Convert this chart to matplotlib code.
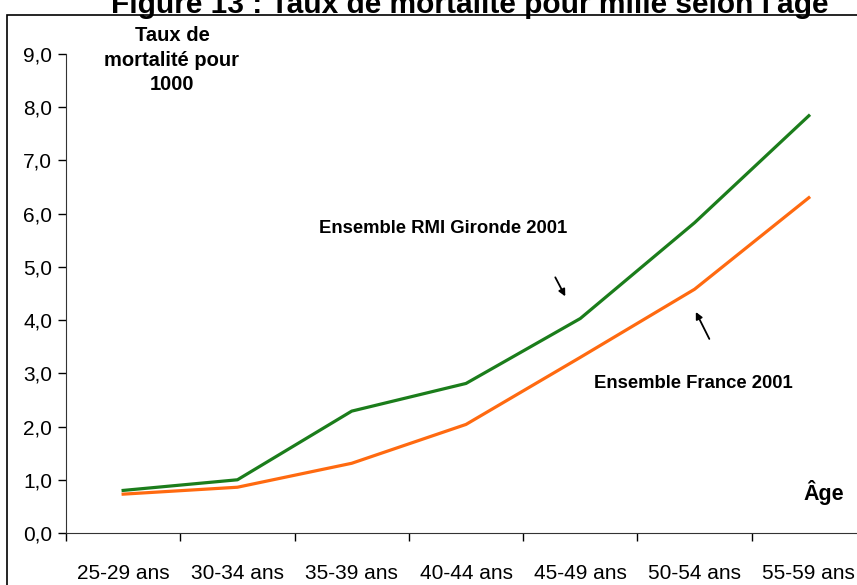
import matplotlib.pyplot as plt
from matplotlib.patches import Rectangle

# tranches d'age et taux de mortalite pour 1000
ages = ['25-29 ans', '30-34 ans', '35-39 ans', '40-44 ans',
        '45-49 ans', '50-54 ans', '55-59 ans']
rmi_gironde = [0.8, 1.0, 2.29, 2.81, 4.03, 5.83, 7.84]
france = [0.73, 0.86, 1.31, 2.04, 3.3, 4.58, 6.3]
yticks = [0, 1, 2, 3, 4, 5, 6, 7, 8, 9]

plt.rcParams['font.family'] = ['Liberation Sans', 'DejaVu Sans']

fig = plt.figure(figsize=(8.57, 5.85), dpi=100)
ax = fig.add_axes([66/857, 1-533/585, 800/857, (533-54)/585])

xpos = [i + 0.5 for i in range(len(ages))]
ax.plot(xpos, rmi_gironde, color='#1b7d1b', lw=2.3)
ax.plot(xpos, france, color='#ff6a10', lw=2.3)

ax.set_xlim(0, 7)
ax.set_ylim(0, 9)
ax.set_yticks(yticks)
ax.yaxis.set_major_formatter(plt.FuncFormatter(lambda v, p: ('%.1f' % v).replace('.', ',')))
ax.set_xticks(range(8))
ax.set_xticklabels([])
ax.set_xticks(xpos, minor=True)
ax.set_xticklabels(ages, minor=True)
ax.tick_params(axis='x', which='minor', length=0, pad=22, labelsize=15)
ax.tick_params(axis='x', which='major', length=6, width=1)
ax.tick_params(axis='y', length=6, width=1, labelsize=15, pad=4)
for s in ['top', 'right']:
    ax.spines[s].set_visible(False)
for s in ['left', 'bottom']:
    ax.spines[s].set_color('#333333')

# annotations
ax.text(3.3, 5.72, 'Ensemble RMI Gironde 2001', ha='center', va='center',
        fontsize=13.3, fontweight='bold')
ax.text(5.49, 2.81, 'Ensemble France 2001', ha='center', va='center',
        fontsize=13.3, fontweight='bold')
ax.text(6.63, 0.77, 'Âge', ha='center', va='center', fontsize=15.5, fontweight='bold')
ax.annotate('', xy=(4.38, 4.4), xytext=(4.27, 4.85),
            arrowprops=dict(arrowstyle='-|>', color='black', lw=1.3, mutation_scale=10))
ax.annotate('', xy=(5.5, 4.2), xytext=(5.64, 3.6),
            arrowprops=dict(arrowstyle='-|>', color='black', lw=1.3, mutation_scale=10))

fig.text(172/857, 1-60/585, 'Taux de\nmortalité pour\n1000', ha='center', va='center',
         fontsize=14.5, fontweight='bold', linespacing=1.35)

fig.text(470/857, 1-13/585, "Figure 13 : Taux de mortalité pour mille selon l'âge",
         ha='center', va='baseline', fontsize=21.5, fontweight='bold')

# cadre
fig.patches.append(Rectangle((7/857, -0.1), 1.1, 1.1 - 15/585, transform=fig.transFigure,
                             fill=False, edgecolor='black', lw=1.2))

fig.savefig('out.png', dpi=100)
